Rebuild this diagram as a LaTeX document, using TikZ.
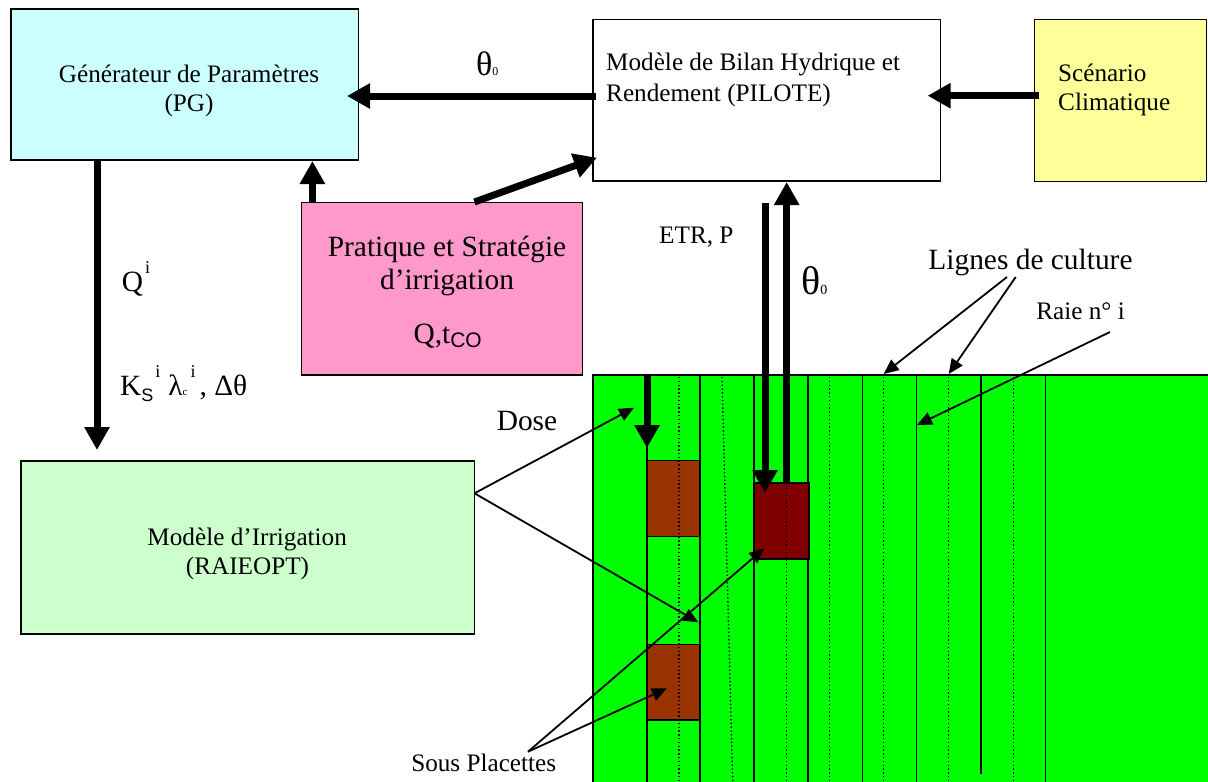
\documentclass[tikz,border=0pt]{standalone}
\usepackage{fontspec}
\setmainfont{Liberation Serif}
\newfontfamily\arialf{Liberation Sans}
\usetikzlibrary{arrows.meta}
\definecolor{pgcyan}{HTML}{CCFFFF}
\definecolor{pinkbox}{HTML}{FF99CC}
\definecolor{yellowbox}{HTML}{FFFF99}
\definecolor{irrgreen}{HTML}{CCFFCC}
\definecolor{fieldgreen}{HTML}{00FF00}
\definecolor{brownbox}{HTML}{993300}
\definecolor{darkbox}{HTML}{800000}
\newcommand\myfs[1]{\fontsize{#1}{#1}\selectfont}
\begin{document}
\begin{tikzpicture}[x=1pt,y=-1pt,
  box/.style={draw, line width=1.5pt, inner sep=0pt, rectangle},
  txt/.style={inner sep=0pt, anchor=base},
  txtl/.style={inner sep=0pt, anchor=base west},
  thickarrow/.style={line width=7pt, -{Triangle[length=23pt,width=24pt]}},
  thinarrow/.style={line width=1.8pt, -{Triangle[length=15pt,width=13pt]}},
  rowline/.style={line width=1.5pt},
  dotline/.style={line width=1.4pt, dash pattern=on 1.4pt off 2.4pt},
  plot/.style={draw, line width=1.5pt, inner sep=0pt, rectangle}
]
\useasboundingbox (0,0) rectangle (1208,782);

% ---------- boxes ----------
\node[box, fill=pgcyan, minimum width=347.6pt, minimum height=151pt] (pg) at (184.8,84.5) {};
\node[box, fill=white, minimum width=347.4pt, minimum height=161.7pt] (pilote) at (766.7,100.15) {};
\node[box, fill=yellowbox, minimum width=172pt, minimum height=162.2pt] (clim) at (1120.5,100.4) {};
\node[box, fill=pinkbox, minimum width=280.7pt, minimum height=172.3pt] (prat) at (442.05,288.85) {};
\node[box, fill=irrgreen, minimum width=453.5pt, minimum height=173pt] (raie) at (247.75,547.5) {};

% ---------- texts in boxes ----------
\node[txt, font=\myfs{25.2}] (pgt1) at (189,82) {Générateur de Paramètres};
\node[txt, font=\myfs{25.2}] (pgt2) at (189,111) {(PG)};
\node[txtl, font=\myfs{25.2}] (pit1) at (606,70.7) {Modèle de Bilan Hydrique et};
\node[txtl, font=\myfs{25.2}] (pit2) at (606,101) {Rendement (PILOTE)};
\node[txtl, font=\myfs{25.2}] (clt1) at (1058,81) {Scénario};
\node[txtl, font=\myfs{25.2}] (clt2) at (1058,110) {Climatique};
\node[txt, font=\myfs{29.4}] (prt1) at (447,256.7) {Pratique et Stratégie};
\node[txt, font=\myfs{29.4}] (prt2) at (447,289.3) {d’irrigation};
\node[txt, font=\myfs{29.4}] (prt3) at (447.7,343.3) {Q,t\raisebox{-4pt}{\arialf\myfs{21}CO}};
\node[txt, font=\myfs{25.2}] (rat1) at (247.2,545) {Modèle d’Irrigation};
\node[txt, font=\myfs{25.2}] (rat2) at (247.5,574.3) {(RAIEOPT)};

% ---------- field ----------
\fill[fieldgreen] (593,375) rectangle (1212,786);
\draw[rowline] (593,786) -- (593,375) -- (1212,375);
\foreach \xx in {647,700,754,808,862.4,916.4,1045.6}
  \draw[rowline] (\xx,375) -- (\xx,786);
\draw[rowline] (981,375) -- (981,774);

\node[plot, fill=brownbox, minimum width=53pt, minimum height=76pt] (sp1) at (673.5,498.7) {};
\node[plot, fill=brownbox, minimum width=53pt, minimum height=75.3pt] (sp2) at (673.5,682.35) {};
\node[plot, fill=darkbox, minimum width=55pt, minimum height=76pt] (sp3) at (781.5,521) {};

\draw[dotline] (679,377) -- (679,782);
\draw[dotline] (722,377) -- (732.7,782);
\draw[dotline] (786.7,377) -- (786.7,782);
\draw[dotline] (829.6,377) -- (829.6,782);
\draw[dotline] (883.6,377) -- (883.6,782);
\draw[dotline] (948.3,377) -- (948.3,782);
\draw[dotline] (1013.3,377) -- (1013.3,782);

% ---------- coordinates ----------
\coordinate (piout) at (596,96);
\coordinate (pgin) at (347,96);
\coordinate (climout) at (1039,95.7);
\coordinate (piin) at (927.6,95.7);
\coordinate (pratpg) at (312.4,202.7);
\coordinate (pgbot) at (312.4,161);
\coordinate (pratpi) at (474.5,202);
\coordinate (pibotl) at (597,157.7);
\coordinate (pgdown) at (97,160);
\coordinate (raietop) at (97,450);
\coordinate (etrtop) at (765,203);
\coordinate (etrbot) at (765,493);
\coordinate (thtop) at (786.7,182);
\coordinate (thbot) at (786.7,483);
\coordinate (dosetop) at (647,375);
\coordinate (dosebot) at (647,448);
\coordinate (raieR) at (474.5,493.3);
\coordinate (dosetip) at (634,407.7);
\coordinate (rowtip) at (698.4,622.3);
\coordinate (spo) at (528,751.7);
\coordinate (sptip1) at (764.2,548.3);
\coordinate (sptip2) at (666.9,688.3);
\coordinate (lgo1) at (1007,277);
\coordinate (lgo2) at (1015.7,277);
\coordinate (lgtip1) at (883.6,374);
\coordinate (lgtip2) at (948.7,374);
\coordinate (rio) at (1110,332);
\coordinate (ritip) at (917,425);

% ---------- thick arrows ----------
\draw[thickarrow] (piout) -- (pgin);
\draw[thickarrow] (climout) -- (piin);
\draw[thickarrow] (pratpg) -- (pgbot);
\draw[thickarrow] (pratpi) -- (pibotl);
\draw[thickarrow] (pgdown) -- (raietop);
\draw[thickarrow] (etrtop) -- (etrbot);
\draw[thickarrow] (thbot) -- (thtop);
\draw[thickarrow] (dosetop) -- (dosebot);

% ---------- thin arrows ----------
\draw[thinarrow] (raieR) -- (dosetip);
\draw[thinarrow] (raieR) -- (rowtip);
\draw[thinarrow] (spo) -- (sptip1);
\draw[thinarrow] (spo) -- (sptip2);
\draw[thinarrow] (lgo1) -- (lgtip1);
\draw[thinarrow] (lgo2) -- (lgtip2);
\draw[thinarrow] (rio) -- (ritip);

% ---------- labels ----------
\node[txtl] (th1) at (476,75) {\myfs{34}θ\myfs{12}0};
\node[txtl] (th2) at (801,294) {\myfs{40}θ\myfs{14}0};
\node[txtl] (qi) at (121.7,291) {\myfs{29.4}Q\hspace{2pt}\raisebox{18pt}{\myfs{18}i}};
\node[txtl] (kl) at (120,395) {\myfs{29.4}K\raisebox{-6pt}{\arialf\myfs{18}S}\hspace{2pt}\raisebox{18pt}{\myfs{18}i}\hspace{8pt}λ{\myfs{11}c}\hspace{3pt}\raisebox{18pt}{\myfs{18}i}\hspace{4pt}, Δθ};
\node[txtl, font=\myfs{25.2}] (etr) at (659,243.3) {ETR, P};
\node[txt, font=\myfs{29.4}] (lig) at (1030.5,269) {Lignes de culture};
\node[txt, font=\myfs{25.2}] (rai) at (1080.5,319.3) {Raie n° i};
\node[txt, font=\myfs{29.4}] (dos) at (527,430) {Dose};
\node[txt, font=\myfs{25.2}] (sous) at (483.7,771.7) {Sous Placettes};
\end{tikzpicture}
\end{document}
